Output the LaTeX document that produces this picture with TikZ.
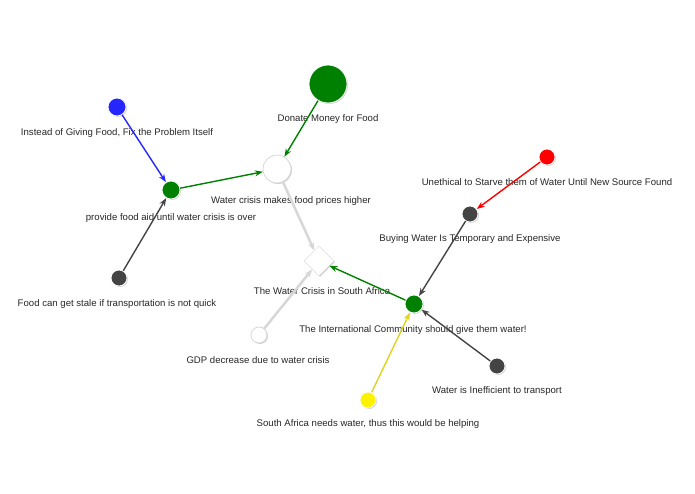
\documentclass[tikz,border=0pt]{standalone}
\usepackage{fontspec}
\setmainfont{Liberation Sans}
\usetikzlibrary{shapes.geometric,shadows,arrows.meta}
\definecolor{ng}{RGB}{0,128,0}
\definecolor{dk}{RGB}{68,68,68}
\definecolor{lg}{RGB}{215,215,215}
\begin{document}
\begin{tikzpicture}[x=1pt,y=-1pt,
  nd/.style={circle,draw=white,line width=0.8pt,inner sep=0pt,minimum size=#1,drop shadow={shadow xshift=1pt,shadow yshift=-1pt,opacity=0.35}},
  lab/.style={font=\fontsize{9.6}{11}\selectfont,text=black!85},
  ed/.style={line width=1.4pt,-{Stealth[length=8pt,width=6pt]}}]
\useasboundingbox (0,0) rectangle (695,494);
\node[nd=38pt,fill=ng] (don) at (328,84) {};
\node[nd=28pt,fill=white,draw=lg] (wcm) at (277,169) {};
\node[nd=18pt,fill=blue!85!white] (ins) at (117,107) {};
\node[nd=18pt,fill=ng] (pfa) at (171,190) {};
\node[nd=16pt,fill=dk] (fcs) at (119,278) {};
\node[diamond,draw=lg,fill=white,minimum size=30pt,inner sep=0pt,drop shadow={shadow xshift=1pt,shadow yshift=-1pt,opacity=0.35}] (wcs) at (319,261) {};
\node[nd=16pt,fill=white,draw=lg] (gdp) at (259,335) {};
\node[nd=16pt,fill=red] (une) at (547,157) {};
\node[nd=16pt,fill=dk] (buy) at (470,214) {};
\node[nd=18pt,fill=ng] (int) at (414,304) {};
\node[nd=16pt,fill=dk] (ine) at (497,366) {};
\node[nd=16pt,fill=yellow] (saw) at (368,400) {};

\node[lab] (l1) at (328,119) {Donate Money for Food};
\node[lab] (l2) at (291,201) {Water crisis makes food prices higher};
\node[lab] (l3) at (117,133) {Instead of Giving Food, Fix the Problem Itself};
\node[lab] (l4) at (171,218) {provide food aid until water crisis is over};
\node[lab] (l5) at (117,304) {Food can get stale if transportation is not quick};
\node[lab] (l6) at (322,291) {The Water Crisis in South Africa};
\node[lab] (l7) at (258,360) {GDP decrease due to water crisis};
\node[lab] (l8) at (547,182) {Unethical to Starve them of Water Until New Source Found};
\node[lab] (l9) at (470,239) {Buying Water Is Temporary and Expensive};
\node[lab] (l10) at (413,330) {The International Community should give them water!};
\node[lab] (l11) at (497,391) {Water is Inefficient to transport};
\node[lab] (l12) at (368,424) {South Africa needs water, thus this would be helping};

\draw[ed,blue!85!white] (ins) -- (pfa);
\draw[ed,dk] (fcs) -- (pfa);
\draw[ed,ng] (pfa) -- (wcm);
\draw[ed,ng] (don) -- (wcm);
\draw[ed,lg,line width=2.5pt] (wcm) -- (wcs);
\draw[ed,lg,line width=2.5pt] (gdp) -- (wcs);
\draw[ed,ng] (int) -- (wcs);
\draw[ed,red] (une) -- (buy);
\draw[ed,dk] (buy) -- (int);
\draw[ed,dk] (ine) -- (int);
\draw[ed,yellow!85!black] (saw) -- (int);
\end{tikzpicture}
\end{document}
